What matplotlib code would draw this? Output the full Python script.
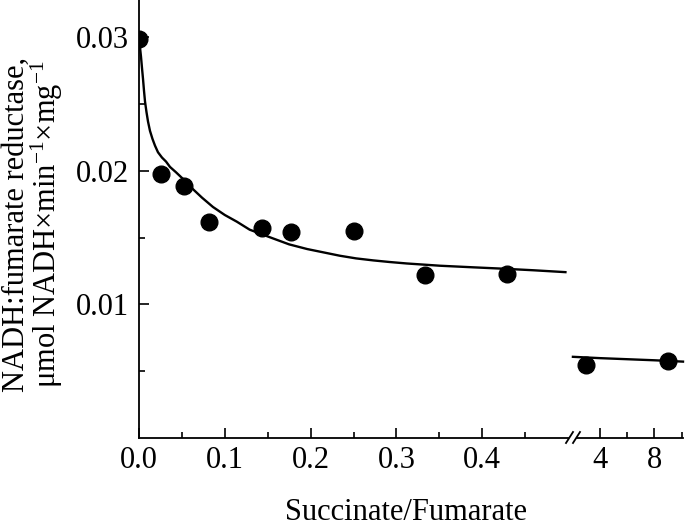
import matplotlib
matplotlib.use("Agg")
import matplotlib.pyplot as plt
from matplotlib.lines import Line2D

# measured values (succinate/fumarate ratio vs activity)
x_low = [0.0, 0.0256, 0.0524, 0.0816, 0.1434, 0.1772, 0.2506, 0.3333, 0.4289]
y_low = [0.0299, 0.0198, 0.0189, 0.0162, 0.0157, 0.0154, 0.0155, 0.0122, 0.0123]
x_high = [2.96, 8.96]
y_high = [0.00548, 0.00578]

# fitted curve
fit_x_low = [0.0, 0.00117, 0.00233, 0.0035, 0.00466, 0.00583, 0.0070, 0.00874, 0.0105,
             0.0128, 0.0157, 0.0186, 0.0221, 0.0268, 0.0315, 0.0361, 0.0431, 0.0513,
             0.0618, 0.0734, 0.0862, 0.100, 0.114, 0.129, 0.156, 0.175, 0.196, 0.215,
             0.234, 0.253, 0.273, 0.292, 0.312, 0.351, 0.39, 0.424, 0.46, 0.497]
fit_y_low = [0.02985, 0.02925, 0.02855, 0.0277, 0.0269, 0.0260, 0.0252, 0.0244, 0.0237,
             0.0230, 0.0224, 0.0219, 0.0214, 0.0210, 0.0207, 0.0203, 0.0199, 0.0194,
             0.0187, 0.0180, 0.0173, 0.0167, 0.0162, 0.0156, 0.01495, 0.0145, 0.01415, 0.0139,
             0.01365, 0.01345, 0.0133, 0.01318, 0.01307, 0.0129, 0.01278, 0.01268, 0.01256, 0.01242]
fit_x_high = [2.0, 4.0, 6.0, 8.0, 10.1]
fit_y_high = [0.00608, 0.00598, 0.0059, 0.00582, 0.00572]

plt.rcParams['font.family'] = ['Liberation Serif', 'DejaVu Serif']
plt.rcParams['mathtext.fontset'] = 'custom'
plt.rcParams['mathtext.rm'] = 'Liberation Serif'
plt.rcParams['mathtext.it'] = 'Liberation Serif'
plt.rcParams['font.size'] = 22

fig = plt.figure(figsize=(6.85, 5.27), dpi=100)
W, H = 685.0, 527.0
bot = 1 - 438 / H
ax1 = fig.add_axes([139 / W, bot, (568 - 139) / W, 1 - bot])
ax2 = fig.add_axes([577 / W, bot, (683 - 577) / W, 1 - bot])

ylim = (0, 0.0328)
for ax in (ax1, ax2):
    ax.set_ylim(*ylim)
    ax.spines['top'].set_visible(False)
    ax.spines['right'].set_visible(False)
    for s in ax.spines.values():
        s.set_linewidth(1.3)
    ax.tick_params(which='both', direction='in', width=1.2)
    ax.tick_params(which='major', length=7, pad=6)
    ax.tick_params(which='minor', length=4)

# left part
ax1.plot(fit_x_low, fit_y_low, color='black', lw=1.7)
ax1.plot(x_low, y_low, 'o', color='black', ms=12)
ax1.set_xlim(0, 0.5)
ax1.set_xticks([0.0, 0.1, 0.2, 0.3, 0.4])
ax1.set_xticklabels(['0.0', '0.1', '0.2', '0.3', '0.4'])
ax1.set_xticks([0.05, 0.15, 0.25, 0.35, 0.45], minor=True)
ax1.set_yticks([0.01, 0.02, 0.03])
ax1.set_yticklabels(['0.01', '0.02', '0.03'])
ax1.set_yticks([0.005, 0.015, 0.025], minor=True)
ax1.tick_params(axis='y', pad=7)

# right part
ax2.plot(fit_x_high, fit_y_high, color='black', lw=1.7, clip_on=False)
ax2.plot(x_high, y_high, 'o', color='black', ms=12)
ax2.set_xlim(2.3, 10.1)
ax2.set_xticks([4, 8])
ax2.set_xticklabels(['4', '8'])
ax2.set_xticks([6, 10], minor=True)
ax2.spines['left'].set_visible(False)
ax2.set_yticks([])

# break marks
for x0 in (566, 573):
    fig.add_artist(Line2D([x0 / W, (x0 + 7) / W], [1 - 443 / H, 1 - 432 / H],
                          color='black', lw=1.3, transform=fig.transFigure))

fig.text(406 / W, 1 - 512 / H, 'Succinate/Fumarate', ha='center', va='center')
fig.text(33 / W, 1 - 224 / H,
         'NADH:fumarate reductase,\nμmol NADH×min$^{-1}$×mg$^{-1}$',
         rotation=90, ha='center', va='center', linespacing=0.93,
         multialignment='center')

fig.savefig('out.png', dpi=100)
